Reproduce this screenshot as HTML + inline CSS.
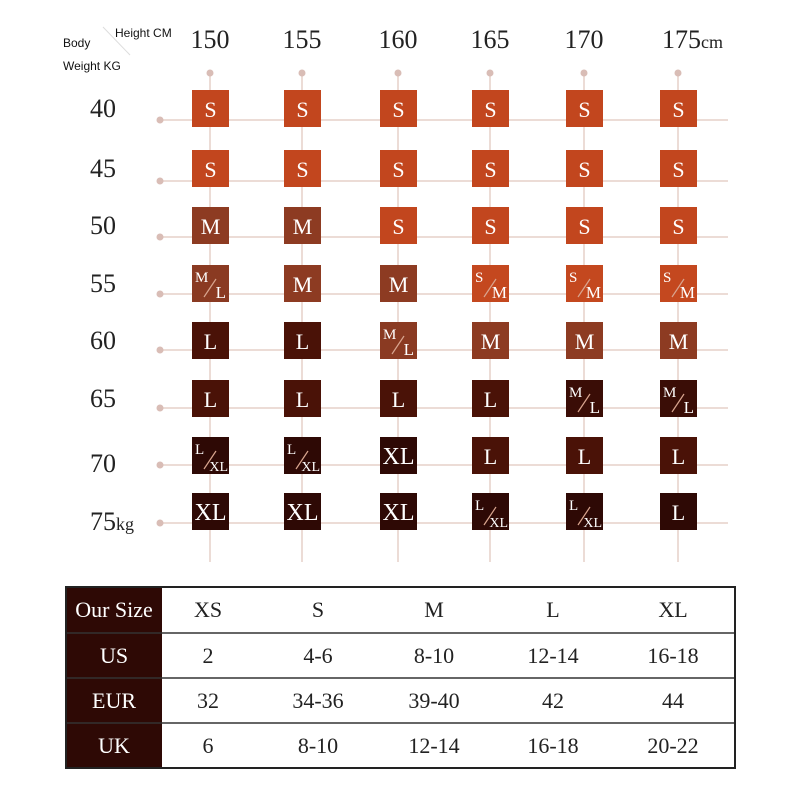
<!DOCTYPE html>
<html><head><style>
body{margin:0;background:#fff;width:800px;height:800px;overflow:hidden}
.c text{fill:#fff;font-size:22px;text-anchor:middle}
.c text.a{font-size:15px;text-anchor:start}
.c text.b{font-size:17px;text-anchor:end}
.c text.bx{font-size:14px;text-anchor:end}
.c text.xl{font-size:24px}
.c line{stroke:#d9a58f;stroke-width:1.2}
.ax text{font-size:26px;fill:#222}
.tb text{font-size:22px;text-anchor:middle;fill:#222}
.tb text.w{fill:#fff}
</style></head><body>
<svg width="800" height="800" xmlns="http://www.w3.org/2000/svg" font-family="Liberation Serif, serif">
<g stroke="#ecdcd6" stroke-width="2">
<line x1="210" y1="73" x2="210" y2="562"/><line x1="302" y1="73" x2="302" y2="562"/><line x1="398" y1="73" x2="398" y2="562"/><line x1="490" y1="73" x2="490" y2="562"/><line x1="584" y1="73" x2="584" y2="562"/><line x1="678" y1="73" x2="678" y2="562"/>
<line x1="160" y1="120" x2="728" y2="120"/><line x1="160" y1="181" x2="728" y2="181"/><line x1="160" y1="237" x2="728" y2="237"/><line x1="160" y1="294" x2="728" y2="294"/><line x1="160" y1="350" x2="728" y2="350"/><line x1="160" y1="408" x2="728" y2="408"/><line x1="160" y1="465" x2="728" y2="465"/><line x1="160" y1="523" x2="728" y2="523"/>
</g>
<g fill="#d9bdb6">
<circle cx="210" cy="73" r="3.5"/><circle cx="302" cy="73" r="3.5"/><circle cx="398" cy="73" r="3.5"/><circle cx="490" cy="73" r="3.5"/><circle cx="584" cy="73" r="3.5"/><circle cx="678" cy="73" r="3.5"/>
<circle cx="160" cy="120" r="3.5"/><circle cx="160" cy="181" r="3.5"/><circle cx="160" cy="237" r="3.5"/><circle cx="160" cy="294" r="3.5"/><circle cx="160" cy="350" r="3.5"/><circle cx="160" cy="408" r="3.5"/><circle cx="160" cy="465" r="3.5"/><circle cx="160" cy="523" r="3.5"/>
</g>
<g class="ax">
<text x="210" y="48" text-anchor="middle">150</text><text x="302" y="48" text-anchor="middle">155</text><text x="398" y="48" text-anchor="middle">160</text><text x="490" y="48" text-anchor="middle">165</text><text x="584" y="48" text-anchor="middle">170</text><text x="662" y="48">175<tspan font-size="18">cm</tspan></text>
<text x="90" y="117">40</text><text x="90" y="177">45</text><text x="90" y="234">50</text><text x="90" y="292">55</text><text x="90" y="349">60</text><text x="90" y="407">65</text><text x="90" y="472">70</text><text x="90" y="530">75<tspan font-size="18">kg</tspan></text>
</g>
<text x="63" y="47" font-family="Liberation Sans, sans-serif" font-size="12" fill="#111">Body</text>
<text x="115" y="37" font-family="Liberation Sans, sans-serif" font-size="12" fill="#111">Height CM</text>
<text x="63" y="70" font-family="Liberation Sans, sans-serif" font-size="12" fill="#111">Weight  KG</text>
<line x1="103" y1="27" x2="130" y2="55" stroke="#ddd" stroke-width="1"/>

<g class="c">
<!-- row 40 -->
<g transform="translate(192,90)"><rect width="37" height="37" fill="#c2461e"/><text x="18.5" y="27">S</text></g>
<g transform="translate(284,90)"><rect width="37" height="37" fill="#c2461e"/><text x="18.5" y="27">S</text></g>
<g transform="translate(380,90)"><rect width="37" height="37" fill="#c2461e"/><text x="18.5" y="27">S</text></g>
<g transform="translate(472,90)"><rect width="37" height="37" fill="#c2461e"/><text x="18.5" y="27">S</text></g>
<g transform="translate(566,90)"><rect width="37" height="37" fill="#c2461e"/><text x="18.5" y="27">S</text></g>
<g transform="translate(660,90)"><rect width="37" height="37" fill="#c2461e"/><text x="18.5" y="27">S</text></g>
<!-- row 45 -->
<g transform="translate(192,150)"><rect width="37" height="37" fill="#c2461e"/><text x="18.5" y="27">S</text></g>
<g transform="translate(284,150)"><rect width="37" height="37" fill="#c2461e"/><text x="18.5" y="27">S</text></g>
<g transform="translate(380,150)"><rect width="37" height="37" fill="#c2461e"/><text x="18.5" y="27">S</text></g>
<g transform="translate(472,150)"><rect width="37" height="37" fill="#c2461e"/><text x="18.5" y="27">S</text></g>
<g transform="translate(566,150)"><rect width="37" height="37" fill="#c2461e"/><text x="18.5" y="27">S</text></g>
<g transform="translate(660,150)"><rect width="37" height="37" fill="#c2461e"/><text x="18.5" y="27">S</text></g>
<!-- row 50 -->
<g transform="translate(192,207)"><rect width="37" height="37" fill="#8d3b22"/><text x="18.5" y="27">M</text></g>
<g transform="translate(284,207)"><rect width="37" height="37" fill="#8d3b22"/><text x="18.5" y="27">M</text></g>
<g transform="translate(380,207)"><rect width="37" height="37" fill="#c2461e"/><text x="18.5" y="27">S</text></g>
<g transform="translate(472,207)"><rect width="37" height="37" fill="#c2461e"/><text x="18.5" y="27">S</text></g>
<g transform="translate(566,207)"><rect width="37" height="37" fill="#c2461e"/><text x="18.5" y="27">S</text></g>
<g transform="translate(660,207)"><rect width="37" height="37" fill="#c2461e"/><text x="18.5" y="27">S</text></g>
<!-- row 55 -->
<g transform="translate(192,265)"><rect width="37" height="37" fill="#8a3a22"/><text class="a" x="3" y="17">M</text><line x1="12" y1="32" x2="24" y2="14"/><text class="b" x="34" y="33">L</text></g>
<g transform="translate(284,265)"><rect width="37" height="37" fill="#8d3b22"/><text x="18.5" y="27">M</text></g>
<g transform="translate(380,265)"><rect width="37" height="37" fill="#8d3b22"/><text x="18.5" y="27">M</text></g>
<g transform="translate(472,265)"><rect width="37" height="37" fill="#c4481f"/><text class="a" x="3" y="17">S</text><line x1="12" y1="32" x2="24" y2="14"/><text class="b" x="35" y="33">M</text></g>
<g transform="translate(566,265)"><rect width="37" height="37" fill="#c4481f"/><text class="a" x="3" y="17">S</text><line x1="12" y1="32" x2="24" y2="14"/><text class="b" x="35" y="33">M</text></g>
<g transform="translate(660,265)"><rect width="37" height="37" fill="#c4481f"/><text class="a" x="3" y="17">S</text><line x1="12" y1="32" x2="24" y2="14"/><text class="b" x="35" y="33">M</text></g>
<!-- row 60 -->
<g transform="translate(192,322)"><rect width="37" height="37" fill="#4a1207"/><text x="18.5" y="27">L</text></g>
<g transform="translate(284,322)"><rect width="37" height="37" fill="#4a1207"/><text x="18.5" y="27">L</text></g>
<g transform="translate(380,322)"><rect width="37" height="37" fill="#8a3a22"/><text class="a" x="3" y="17">M</text><line x1="12" y1="32" x2="24" y2="14"/><text class="b" x="34" y="33">L</text></g>
<g transform="translate(472,322)"><rect width="37" height="37" fill="#8d3b22"/><text x="18.5" y="27">M</text></g>
<g transform="translate(566,322)"><rect width="37" height="37" fill="#8d3b22"/><text x="18.5" y="27">M</text></g>
<g transform="translate(660,322)"><rect width="37" height="37" fill="#8d3b22"/><text x="18.5" y="27">M</text></g>
<!-- row 65 -->
<g transform="translate(192,380)"><rect width="37" height="37" fill="#4a1207"/><text x="18.5" y="27">L</text></g>
<g transform="translate(284,380)"><rect width="37" height="37" fill="#4a1207"/><text x="18.5" y="27">L</text></g>
<g transform="translate(380,380)"><rect width="37" height="37" fill="#4a1207"/><text x="18.5" y="27">L</text></g>
<g transform="translate(472,380)"><rect width="37" height="37" fill="#4a1207"/><text x="18.5" y="27">L</text></g>
<g transform="translate(566,380)"><rect width="37" height="37" fill="#3a0d06"/><text class="a" x="3" y="17">M</text><line x1="12" y1="32" x2="24" y2="14"/><text class="b" x="34" y="33">L</text></g>
<g transform="translate(660,380)"><rect width="37" height="37" fill="#3a0d06"/><text class="a" x="3" y="17">M</text><line x1="12" y1="32" x2="24" y2="14"/><text class="b" x="34" y="33">L</text></g>
<!-- row 70 -->
<g transform="translate(192,437)"><rect width="37" height="37" fill="#2e0905"/><text class="a" x="3" y="17">L</text><line x1="12" y1="32" x2="24" y2="14"/><text class="bx" x="36" y="34">XL</text></g>
<g transform="translate(284,437)"><rect width="37" height="37" fill="#2e0905"/><text class="a" x="3" y="17">L</text><line x1="12" y1="32" x2="24" y2="14"/><text class="bx" x="36" y="34">XL</text></g>
<g transform="translate(380,437)"><rect width="37" height="37" fill="#2e0905"/><text class="xl" x="18.5" y="27">XL</text></g>
<g transform="translate(472,437)"><rect width="37" height="37" fill="#4a1207"/><text x="18.5" y="27">L</text></g>
<g transform="translate(566,437)"><rect width="37" height="37" fill="#4a1207"/><text x="18.5" y="27">L</text></g>
<g transform="translate(660,437)"><rect width="37" height="37" fill="#4a1207"/><text x="18.5" y="27">L</text></g>
<!-- row 75 -->
<g transform="translate(192,493)"><rect width="37" height="37" fill="#2e0905"/><text class="xl" x="18.5" y="27">XL</text></g>
<g transform="translate(284,493)"><rect width="37" height="37" fill="#2e0905"/><text class="xl" x="18.5" y="27">XL</text></g>
<g transform="translate(380,493)"><rect width="37" height="37" fill="#2e0905"/><text class="xl" x="18.5" y="27">XL</text></g>
<g transform="translate(472,493)"><rect width="37" height="37" fill="#2e0905"/><text class="a" x="3" y="17">L</text><line x1="12" y1="32" x2="24" y2="14"/><text class="bx" x="36" y="34">XL</text></g>
<g transform="translate(566,493)"><rect width="37" height="37" fill="#2e0905"/><text class="a" x="3" y="17">L</text><line x1="12" y1="32" x2="24" y2="14"/><text class="bx" x="36" y="34">XL</text></g>
<g transform="translate(660,493)"><rect width="37" height="37" fill="#2e0905"/><text x="18.5" y="27">L</text></g>
</g>

<g class="tb">
<rect x="66" y="587" width="96" height="181" fill="#2e0905"/>
<g stroke="#333" stroke-width="1.5"><line x1="66" y1="633" x2="735" y2="633"/><line x1="66" y1="678" x2="735" y2="678"/><line x1="66" y1="723" x2="735" y2="723"/></g>
<rect x="66" y="587" width="669" height="181" fill="none" stroke="#222" stroke-width="2"/>
<text class="w" x="114" y="617" font-size="21">Our Size</text><text x="208" y="617">XS</text><text x="318" y="617">S</text><text x="434" y="617">M</text><text x="553" y="617">L</text><text x="673" y="617">XL</text>
<text class="w" x="114" y="663">US</text><text x="208" y="663">2</text><text x="318" y="663">4-6</text><text x="434" y="663">8-10</text><text x="553" y="663">12-14</text><text x="673" y="663">16-18</text>
<text class="w" x="114" y="708">EUR</text><text x="208" y="708">32</text><text x="318" y="708">34-36</text><text x="434" y="708">39-40</text><text x="553" y="708">42</text><text x="673" y="708">44</text>
<text class="w" x="114" y="753">UK</text><text x="208" y="753">6</text><text x="318" y="753">8-10</text><text x="434" y="753">12-14</text><text x="553" y="753">16-18</text><text x="673" y="753">20-22</text>
</g>
</svg>
</body></html>
